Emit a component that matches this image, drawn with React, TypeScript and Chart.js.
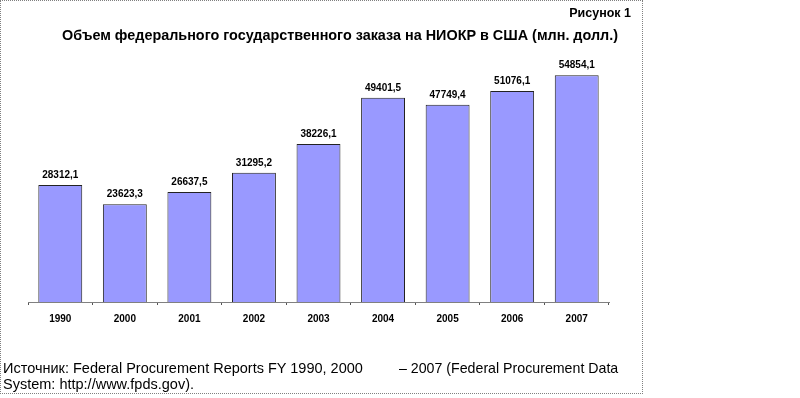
import React, { useEffect, useRef } from "react";
import { Chart, registerables } from "chart.js";

Chart.register(...registerables);

const years = ["1990", "2000", "2001", "2002", "2003", "2004", "2005", "2006", "2007"];
const volumes = [28312.1, 23623.3, 26637.5, 31295.2, 38226.1, 49401.5, 47749.4, 51076.1, 54854.1];
const figureLabel = "Рисунок 1";
const titleText = "Объем федерального государственного заказа на НИОКР в США (млн. долл.)";
const sourceLine1a = "Источник: Federal Procurement Reports FY 1990, 2000";
const sourceLine1b = "– 2007 (Federal Procurement Data";
const sourceLine2 = "System: http://www.fpds.gov).";

const FONT = "Arial, 'Liberation Sans', sans-serif";

const valueLabels = {
  id: "valueLabels",
  afterDatasetsDraw(chart: any) {
    const ctx = chart.ctx;
    const meta = chart.getDatasetMeta(0);
    ctx.save();
    ctx.font = `bold 10px ${FONT}`;
    ctx.fillStyle = "#000";
    ctx.textAlign = "center";
    ctx.textBaseline = "alphabetic";
    meta.data.forEach((bar: any, i: number) => {
      const v = chart.data.datasets[0].data[i] as number;
      ctx.fillText(v.toFixed(1).replace(".", ","), bar.x, bar.y - 7);
    });
    ctx.restore();
  },
};

export default function App() {
  const ref = useRef<HTMLCanvasElement>(null);
  useEffect(() => {
    if (!ref.current) return;
    const chart = new Chart(ref.current, {
      type: "bar",
      data: {
        labels: years,
        datasets: [
          {
            data: volumes,
            backgroundColor: "#9999ff",
            borderColor: "#222222",
            borderWidth: 1,
            barPercentage: 0.68,
            categoryPercentage: 1,
          },
        ],
      },
      options: {
        animation: false,
        responsive: false,
        devicePixelRatio: 1,
        layout: { padding: { left: 28, right: 191, top: 54, bottom: 65 } },
        plugins: { legend: { display: false }, tooltip: { enabled: false }, title: { display: false } },
        scales: {
          x: {
            grid: { display: true, drawOnChartArea: false, drawTicks: true, tickLength: 3, color: "#555", offset: true },
            border: { display: true, color: "#808080", dash: [1, 1] },
            ticks: { color: "#000", font: { family: FONT, size: 10, weight: "bold" }, padding: 8 },
          },
          y: { display: false, min: 0, max: 60000 },
        },
      },
      plugins: [valueLabels],
    });
    return () => chart.destroy();
  }, []);

  const textBase: React.CSSProperties = {
    position: "absolute",
    fontFamily: FONT,
    color: "#000",
    whiteSpace: "nowrap",
    lineHeight: 1,
  };

  return (
    <div style={{ position: "absolute", left: 0, top: 0, width: 800, height: 398, background: "#fff", overflow: "hidden" }}>
      <canvas ref={ref} width={800} height={398} style={{ position: "absolute", left: 0, top: 0 }} />
      <div style={{ position: "absolute", left: 0, top: 0, width: 641, height: 392, border: "1px dotted #808080" }} />
      <div style={{ ...textBase, right: 800 - 631, top: 7, fontSize: 12.5, fontWeight: "bold" }}>{figureLabel}</div>
      <div style={{ ...textBase, left: 62, top: 28, fontSize: 14.4, fontWeight: "bold" }}>{titleText}</div>
      <div style={{ ...textBase, left: 3, top: 361, fontSize: 14.5 }}>{sourceLine1a}</div>
      <div style={{ ...textBase, left: 399, top: 361, fontSize: 14.2 }}>{sourceLine1b}</div>
      <div style={{ ...textBase, left: 3, top: 377, fontSize: 14.5 }}>{sourceLine2}</div>
    </div>
  );
}
